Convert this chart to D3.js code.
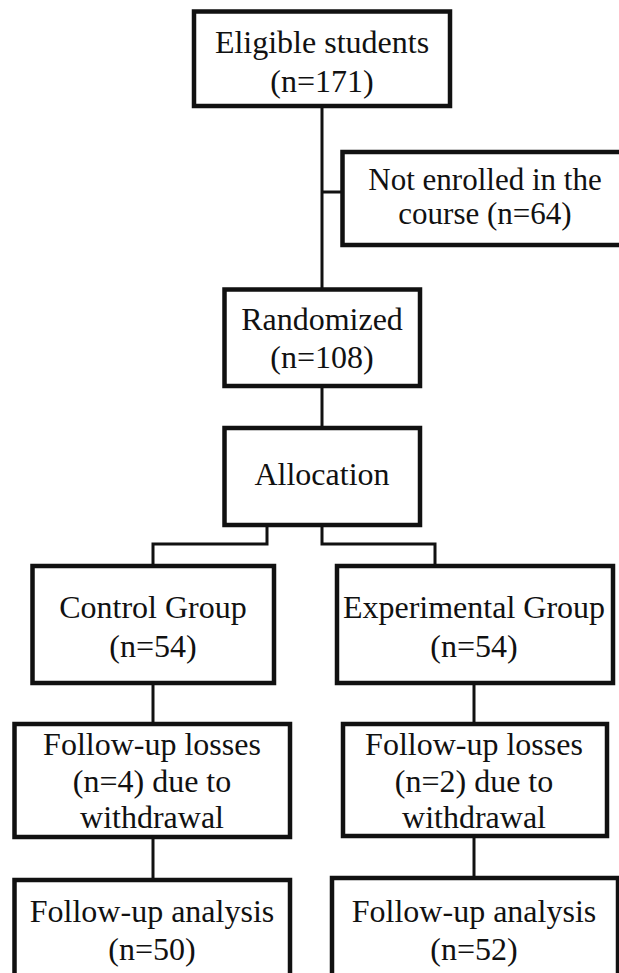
<!DOCTYPE html>
<html>
<head>
<meta charset="utf-8">
<script src="https://cdn.jsdelivr.net/npm/d3@7"></script>
<style>
  body { margin: 0; background: #fff; }
  text { font-family: "Liberation Serif", "Times New Roman", serif; fill: #111; }
</style>
</head>
<body>
<div class="flow"></div>
<script>
// box text, one entry per box
var boxLabels = [
  ["Eligible students", "(n=171)"],
  ["Not enrolled in the", "course (n=64)"],
  ["Randomized", "(n=108)"],
  ["Allocation"],
  ["Control Group", "(n=54)"],
  ["Experimental Group", "(n=54)"],
  ["Follow-up losses", "(n=4) due to", "withdrawal"],
  ["Follow-up losses", "(n=2) due to", "withdrawal"],
  ["Follow-up analysis", "(n=50)"],
  ["Follow-up analysis", "(n=52)"]
];

// geometry of each box: left, right, top, bottom, first baseline, line gap, text centre, font size
var boxLayout = [
  {x0: 194, x1: 450, y0: 11.5, y1: 106, base: 53, gap: 38.5, cx: 322, fs: 32},
  {x0: 342.5, x1: 628, y0: 152, y1: 245, base: 189.5, gap: 34.5, cx: 485, fs: 31},
  {x0: 224.5, x1: 420, y0: 289.5, y1: 386, base: 330, gap: 38, cx: 322, fs: 32},
  {x0: 224.5, x1: 420, y0: 428, y1: 525, base: 485, gap: 0, cx: 322, fs: 32},
  {x0: 32.5, x1: 274, y0: 566, y1: 683, base: 618, gap: 39, cx: 153, fs: 32},
  {x0: 337, x1: 613, y0: 566, y1: 683, base: 618, gap: 39, cx: 474, fs: 32},
  {x0: 14.5, x1: 290, y0: 724, y1: 837, base: 755, gap: 36.5, cx: 152, fs: 32},
  {x0: 343, x1: 607, y0: 724, y1: 836, base: 755, gap: 36.5, cx: 474, fs: 32},
  {x0: 14.5, x1: 290, y0: 880, y1: 1000, base: 921.5, gap: 38.5, cx: 152, fs: 32},
  {x0: 332, x1: 618, y0: 878, y1: 1000, base: 921.5, gap: 38.5, cx: 474, fs: 32}
];

// connector polylines
var links = [
  [[322, 106], [322, 289.5]],
  [[322, 192], [342.5, 192]],
  [[322, 386], [322, 428]],
  [[267, 525], [267, 544], [153, 544], [153, 566]],
  [[322, 525], [322, 544], [435, 544], [435, 566]],
  [[153, 683], [153, 724]],
  [[474, 683], [474, 724]],
  [[153, 837], [153, 880]],
  [[474, 836], [474, 878]]
];

var width = 619, height = 973;

var svg = d3.select(".flow").append("svg")
    .attr("width", width)
    .attr("height", height);

var line = d3.line();

svg.selectAll(".link")
    .data(links)
  .enter().append("path")
    .attr("class", "link")
    .attr("d", line)
    .attr("fill", "none")
    .attr("stroke", "#111")
    .attr("stroke-width", 3);

var boxes = svg.selectAll(".box")
    .data(boxLabels.map(function(lines, i) { return {lines: lines, pos: boxLayout[i]}; }))
  .enter().append("g")
    .attr("class", "box");

boxes.append("rect")
    .attr("x", function(d) { return d.pos.x0; })
    .attr("y", function(d) { return d.pos.y0; })
    .attr("width", function(d) { return d.pos.x1 - d.pos.x0; })
    .attr("height", function(d) { return d.pos.y1 - d.pos.y0; })
    .attr("fill", "#fff")
    .attr("stroke", "#111")
    .attr("stroke-width", 4.5);

// one text per box, each line as a tspan
boxes.append("text")
    .attr("text-anchor", "middle")
    .attr("font-size", function(d) { return d.pos.fs; })
  .selectAll("tspan")
    .data(function(d) {
      return d.lines.map(function(t, j) {
        return {t: t, x: d.pos.cx, y: d.pos.base + j * d.pos.gap};
      });
    })
  .enter().append("tspan")
    .attr("x", function(d) { return d.x; })
    .attr("y", function(d) { return d.y; })
    .text(function(d) { return d.t; });
</script>
</body>
</html>
